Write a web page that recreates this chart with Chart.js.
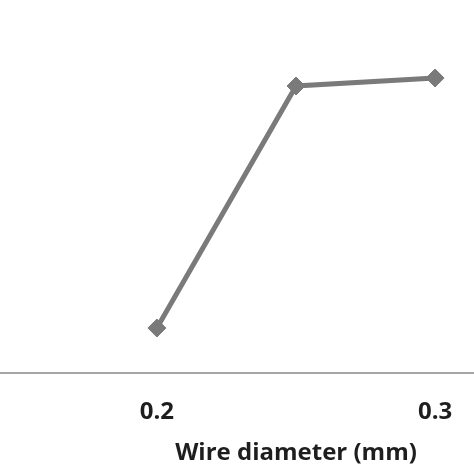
<!DOCTYPE html>
<html>
<head>
<meta charset="utf-8">
<script src="https://cdn.jsdelivr.net/npm/chart.js@4/dist/chart.umd.min.js"></script>
<style>
  html, body { margin: 0; padding: 0; background: #fff; overflow: hidden; width: 474px; height: 474px; }
  #wrap { position: absolute; left: -10px; top: 0; width: 612px; height: 474px; }
</style>
</head>
<body>
<div id="wrap"><canvas id="chart"></canvas></div>
<script>
// Data (y axis is cropped away, values are relative)
var wireDiameters = [0.2, 0.25, 0.3];
var measuredValues = [0.45, 2.87, 2.95];
var xTickValues = [0.2, 0.3];
var xTitle = 'Wire diameter (mm)';

var ctx = document.getElementById('chart').getContext('2d');
new Chart(ctx, {
  type: 'line',
  data: {
    datasets: [{
      data: wireDiameters.map((d, i) => ({ x: d, y: measuredValues[i] })),
      borderColor: '#7a7a7a',
      backgroundColor: '#7a7a7a',
      borderWidth: 5,
      pointStyle: 'rectRot',
      pointRadius: 9,
      pointBorderWidth: 1,
      fill: false,
      tension: 0
    }]
  },
  options: {
    responsive: true,
    maintainAspectRatio: false,
    animation: false,
    layout: { autoPadding: false, padding: { left: 0, right: 0, top: 0, bottom: 6 } },
    plugins: { legend: { display: false }, tooltip: { enabled: false } },
    scales: {
      x: {
        type: 'linear',
        min: 0.14,
        max: 0.36,
        afterBuildTicks: (scale) => { scale.ticks = xTickValues.map(v => ({ value: v })); },
        afterFit: (scale) => { scale.height = 95; },
        grid: { display: false, drawTicks: false },
        border: { display: true, color: '#a6a6a6', width: 2 },
        ticks: {
          padding: 25,
          color: '#1e1e1e',
          font: { family: 'Open Sans', size: 24, weight: 'bold', lineHeight: 1.2 },
          callback: (v) => v.toFixed(1),
          maxRotation: 0
        },
        title: {
          display: true,
          text: xTitle,
          color: '#1e1e1e',
          font: { family: 'Open Sans', size: 24, weight: 'bold', lineHeight: 1.2 },
          padding: { top: 0, bottom: 0 }
        }
      },
      y: {
        display: false,
        min: 0,
        max: 3.73
      }
    }
  }
});
</script>
</body>
</html>
